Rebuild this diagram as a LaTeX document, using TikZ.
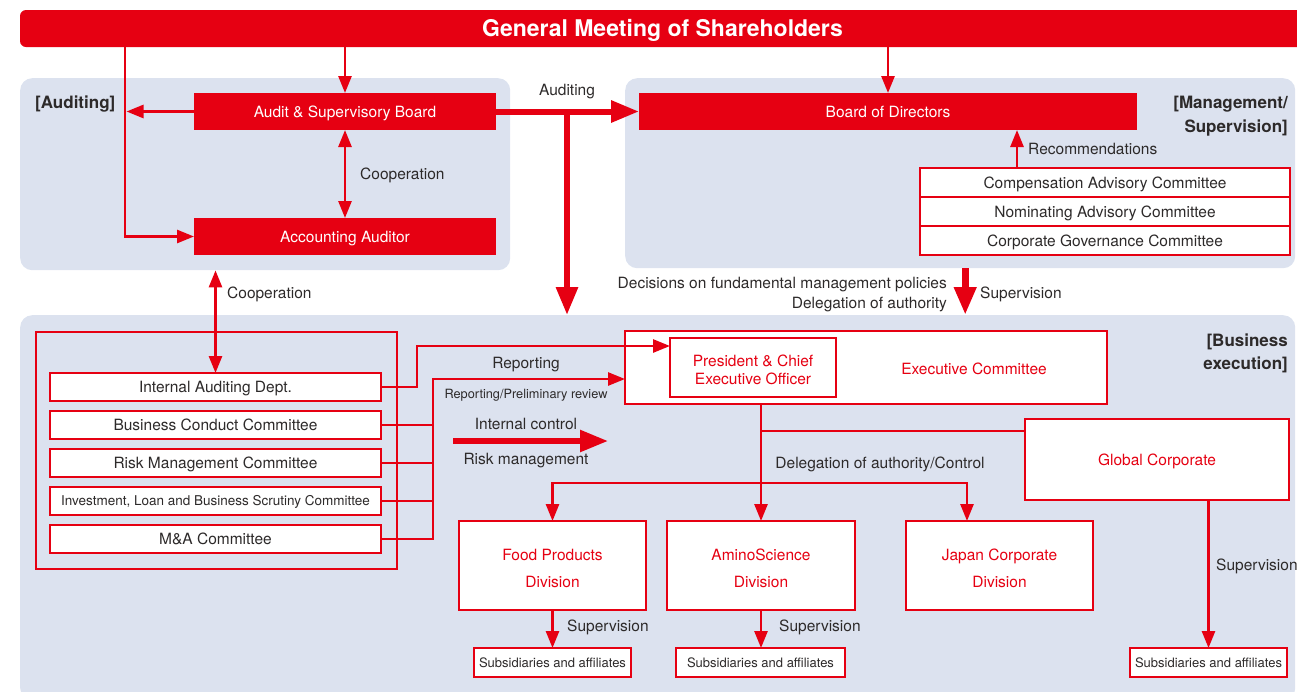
\documentclass[tikz,border=0pt]{standalone}
\usepackage{fontspec}
\setmainfont{TeX Gyre Heros}
\usetikzlibrary{arrows.meta,positioning}
\usepackage{xcolor}
\definecolor{ajred}{RGB}{230,0,18}
\definecolor{ajpanel}{RGB}{220,226,239}
\definecolor{ajink}{RGB}{45,42,42}
\newcommand\sizebody{\fontsize{15.5}{18}\selectfont}
\newcommand\sizesmall{\fontsize{13}{15}\selectfont}
\newcommand\sizehead{\fontsize{17}{24}\selectfont\bfseries}
\tikzset{
    panel/.style={
        fill=ajpanel,rounded corners=12pt,anchor=north west,inner sep=0pt
    },
    redcard/.style={
        fill=ajred,text=white,inner sep=0pt,outer sep=0pt,
        minimum height=37pt,font=\sizebody,text height=11.1pt,text depth=0pt
    },
    card/.style={
        draw=ajred,line width=1.5pt,fill=white,inner sep=0pt,outer sep=0pt,
        align=center,text=#1,font=\sizebody,text height=11.1pt,text depth=0pt
    },
    card/.default=ajink,
    small/.style={font=\sizesmall,text height=9.3pt},
    lbl/.style={
        text=ajink,font=\sizebody,inner sep=0pt,text height=11.1pt,text depth=0pt
    },
    head/.style={
        lbl,font=\sizehead,text height=12.2pt,align=right,anchor=east
    },
    wire/.style={line width=2.7pt,draw=ajred},
    link/.style={
        -{Triangle[length=17pt,width=13pt]},line width=2.7pt,draw=ajred
    },
    twoway/.style={
        {Triangle[length=17pt,width=13pt]}-{Triangle[length=17pt,width=13pt]},
        line width=2.7pt,draw=ajred
    },
    bigarrow/.style={
        -{Triangle[length=28pt,width=21pt]},line width=6pt,draw=ajred
    }
}

\begin{document}
\begin{tikzpicture}[x=1pt,y=-1pt]
\useasboundingbox (0,0) rectangle (1297,691);

\node[panel,minimum width=490pt,minimum height=192pt] (audpanel) at (20,78) {};
\node[panel,minimum width=670pt,minimum height=190pt] (mgmtpanel) at (625,78) {};
\node[panel,minimum width=1275pt,minimum height=385pt] (bizpanel) at (20,315) {};

\node[fill=ajred,rounded corners=6pt,minimum width=1285pt,minimum height=37pt,
inner sep=0pt,text=white,font=\fontsize{23}{26}\selectfont\bfseries,
text height=16.5pt,text depth=0pt]
(gms) at (662.5,28.5) {General Meeting of Shareholders};

\node[head,anchor=west] (audtitle) at (35,102) {[Auditing]};
\node[head,text height=36.2pt] (mgmttitle) at (1288,114.5)
{[Management/\\Supervision]};
\node[head,text height=35.2pt,font=\fontsize{17}{23}\selectfont\bfseries] (biztitle)
at (1288,351.5) {[Business\\execution]};

\node[redcard,minimum width=302pt] (asb) at (345,111.5) {Audit \& Supervisory Board};
\node[redcard,minimum width=302pt] (acc) at (345,236.5) {Accounting Auditor};
\node[redcard,minimum width=498pt] (bod) at (888,111.5) {Board of Directors};

\node[card,minimum width=370pt,minimum height=29pt] (cac) at (1105,182.5)
{Compensation Advisory Committee};
\node[card,minimum width=370pt,minimum height=29pt] (nac) at (1105,211.5)
{Nominating Advisory Committee};
\node[card,minimum width=370pt,minimum height=29pt] (cgc) at (1105,240.5)
{Corporate Governance Committee};

\node[draw=ajred,line width=1.5pt,minimum width=361pt,minimum height=237pt,
inner sep=0pt,anchor=north west] (cmtframe) at (35,331) {};
\node[card,minimum width=331pt,minimum height=28pt] (iad) at (215.5,387)
{Internal Auditing Dept.};
\node[card,minimum width=331pt,minimum height=28pt] (bcc) at (215.5,425)
{Business Conduct Committee};
\node[card,minimum width=331pt,minimum height=28pt] (rmc) at (215.5,463)
{Risk Management Committee};
\node[card,minimum width=331pt,minimum height=28pt,
font=\fontsize{13.5}{15}\selectfont,text height=9.7pt]
(ilb) at (215.5,501) {Investment, Loan and Business Scrutiny Committee};
\node[card,minimum width=331pt,minimum height=28pt] (mac) at (215.5,539)
{M\&A Committee};

\node[card=ajred,minimum width=482pt,minimum height=73pt] (exec) at (866,367.5) {};
\node[lbl,text=ajred] (execlbl) at (974,369) {Executive Committee};
\node[card=ajred,minimum width=166pt,minimum height=59pt,text height=33pt] (ceo)
at (753,367.5) {President \& Chief\\Executive Officer};
\node[card=ajred,minimum width=264pt,minimum height=81pt] (glob) at (1157,459.5)
{Global Corporate};

\node[card=ajred,minimum width=187pt,minimum height=89pt,
font=\fontsize{15.5}{27}\selectfont,text height=44pt] (food) at (552.5,565.5)
{Food Products\\Division};
\node[card=ajred,minimum width=188pt,minimum height=89pt,
font=\fontsize{15.5}{27}\selectfont,text height=44pt] (amino) at (761,565.5)
{AminoScience\\Division};
\node[card=ajred,minimum width=187pt,minimum height=89pt,
font=\fontsize{15.5}{27}\selectfont,text height=44pt] (japan) at (999.5,565.5)
{Japan Corporate\\Division};

\node[card,small,minimum width=157pt,minimum height=29pt] (subfood)
at (552.5,662.5) {Subsidiaries and affiliates};
\node[card,small,minimum width=169pt,minimum height=29pt] (subamino)
at (760.5,662.5) {Subsidiaries and affiliates};
\node[card,small,minimum width=157pt,minimum height=29pt] (subglob)
at (1208.5,662.5) {Subsidiaries and affiliates};

\draw[link] (gms.south -| asb.north) -- (asb.north);
\draw[link] (gms.south -| bod.north) -- (bod.north);
\coordinate (audline) at (125,236.5);
\draw[link] (gms.south -| audline) |- (acc.west);
\draw[link] (asb.west) -- ([xshift=1.5pt]asb.west -| audline);
\draw[twoway] (asb.south) -- (acc.north);
\node[lbl,anchor=west] (coopone) at (360,174) {Cooperation};

\draw[bigarrow] (asb.east) -- (bod.west);
\node[lbl] (audlbl) at (567,90) {Auditing};
\coordinate (auddrop) at (567,111.5);
\draw[bigarrow] (auddrop) -- (auddrop |- bizpanel.north);

\draw[twoway] (audpanel.south -| iad.north) -- (iad.north);
\node[lbl,anchor=west] (cooptwo) at (227,293) {Cooperation};

\draw[link] ([xshift=-88pt]cac.north) -- ([xshift=-88pt]cac.north |- bod.south);
\node[lbl,anchor=west] (reclbl) at (1028,149) {Recommendations};

\draw[bigarrow,line width=7pt] ([xshift=5pt]mgmtpanel.south)
-- ([xshift=5pt]mgmtpanel.south |- bizpanel.north);
\node[lbl,anchor=east] (declbl) at (947,283) {Decisions on fundamental management policies};
\node[lbl,anchor=east] (dellblone) at (947,303) {Delegation of authority};
\node[lbl,anchor=west] (suplbl) at (980,293) {Supervision};

\draw[link] (iad.east) -- ++(36,0) |- ([yshift=21.5pt]ceo.west);
\coordinate (bus) at (433,379);
\foreach \c in {bcc,rmc,ilb}
    \draw[wire] (\c.east) -- (\c.east -| bus);
\draw[link] (mac.east) -| (bus) -- (bus -| exec.west);
\node[lbl] (replbl) at (526,363) {Reporting};
\node[lbl,font=\fontsize{12.75}{15}\selectfont,text height=9.2pt] (prelbl)
at (526,394) {Reporting/Preliminary review};

\coordinate (icfrom) at (453,441);
\coordinate (icto) at (608,441);
\draw[bigarrow,line width=5.5pt] (icfrom) -- (icto);
\node[lbl] (iclbl) at (526,424) {Internal control};
\node[lbl] (rmlbl) at (526,459) {Risk management};

\draw[link] (exec.south -| amino.north) -- (amino.north);
\coordinate (split) at (761,431);
\draw[wire] (split) -- (split -| glob.west);
\coordinate (fork) at (761,483);
\draw[link] (fork) -| (food.north);
\draw[link] (fork) -| ([xshift=-32.5pt]japan.north);
\node[lbl] (dellbltwo) at (880,463) {Delegation of authority/Control};

\draw[link] (food.south) -- (subfood.north);
\draw[link] (amino.south) -- (amino.south |- subamino.north);
\draw[link] (glob.south -| subglob.north) -- (subglob.north);
\node[lbl,anchor=west] (supfood) at (567,626) {Supervision};
\node[lbl,anchor=west] (supamino) at (779,626) {Supervision};
\node[lbl,anchor=west] (supglob) at (1216,565) {Supervision};

\end{tikzpicture}
\end{document}
